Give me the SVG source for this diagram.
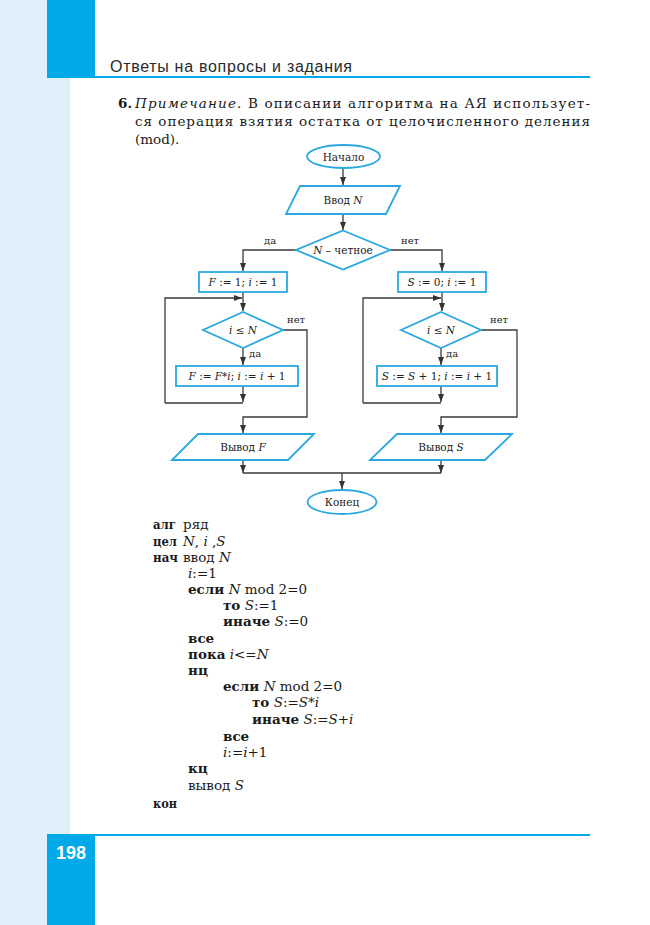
<svg xmlns="http://www.w3.org/2000/svg" width="650" height="925" viewBox="0 0 650 925">
  <defs>
    <marker id="arr" viewBox="0 0 8 6" refX="8" refY="3" markerWidth="8" markerHeight="6" markerUnits="userSpaceOnUse" orient="auto">
      <path d="M0,0 L8,3 L0,6 z" fill="#333"/>
    </marker>
    <style>
      .shape { fill:#fff; stroke:#2aa8e0; stroke-width:1.8; }
      .conn { fill:none; stroke:#3a3a3a; stroke-width:1.3; }
      .t { font-family:"DejaVu Serif","Liberation Serif",serif; font-size:10.5px; fill:#222; text-anchor:middle; }
      .lbl { font-family:"DejaVu Serif","Liberation Serif",serif; font-size:10px; fill:#222; }
      .it { font-style:italic; }
      .b { font-weight:bold; }
      .para { font-family:"DejaVu Serif","Liberation Serif",serif; font-size:13.5px; fill:#1a1a1a; }
      .code { font-family:"DejaVu Serif","Liberation Serif",serif; font-size:13.5px; fill:#1a1a1a; }
    </style>
  </defs>

  <!-- page decoration -->
  <rect x="0" y="0" width="650" height="925" fill="#fff"/>
  <rect x="0" y="0" width="70" height="925" fill="#dff0fa"/>
  <rect x="47" y="0" width="48" height="78" fill="#00a9e8"/>
  <rect x="47" y="835" width="48" height="90" fill="#00a9e8"/>
  <line x1="47" y1="77" x2="590" y2="77" stroke="#00a9e8" stroke-width="2"/>
  <line x1="47" y1="835" x2="590" y2="835" stroke="#00a9e8" stroke-width="2"/>
  <text x="110" y="72" font-family="'Liberation Sans',Arial,sans-serif" font-size="16" fill="#2a2a2a" textLength="242" lengthAdjust="spacing">Ответы на вопросы и задания</text>
  <text x="71" y="859" font-family="'Liberation Sans',Arial,sans-serif" font-size="18" font-weight="bold" fill="#fff" text-anchor="middle">198</text>

  <!-- note paragraph -->
  <text class="para b" x="118" y="108">6.</text>
  <text class="para" x="135" y="108" textLength="455" lengthAdjust="spacing"><tspan class="it">Примечание.</tspan> В описании алгоритма на АЯ использует-</text>
  <text class="para" x="135" y="126" textLength="455" lengthAdjust="spacing">ся операция взятия остатка от целочисленного деления</text>
  <text class="para" x="135" y="144">(mod).</text>

  <!-- connectors -->
  <g id="connectors">
    <path class="conn" d="M343,168 V185" marker-end="url(#arr)"/>
    <path class="conn" d="M343,214 V230" marker-end="url(#arr)"/>
    <path class="conn" d="M296,250 H243 V271" marker-end="url(#arr)"/>
    <path class="conn" d="M390,250 H442 V271" marker-end="url(#arr)"/>
    <!-- left loop -->
    <path class="conn" d="M243,292 V311" marker-end="url(#arr)"/>
    <path class="conn" d="M165,403 V298 H242" marker-end="url(#arr)"/>
    <path class="conn" d="M243,348 V365" marker-end="url(#arr)"/>
    <path class="conn" d="M243,386 V402" marker-end="url(#arr)"/>
    <path class="conn" d="M243,403 H165"/>
    <path class="conn" d="M283,330 H307 V417 H243 V433" marker-end="url(#arr)"/>
    <!-- right loop -->
    <path class="conn" d="M442,292 V311" marker-end="url(#arr)"/>
    <path class="conn" d="M363,403 V298 H441" marker-end="url(#arr)"/>
    <path class="conn" d="M441,348 V365" marker-end="url(#arr)"/>
    <path class="conn" d="M441,386 V402" marker-end="url(#arr)"/>
    <path class="conn" d="M441,403 H363"/>
    <path class="conn" d="M481,330 H517 V417 H441 V433" marker-end="url(#arr)"/>
    <!-- merge -->
    <path class="conn" d="M243,460 V473" marker-end="url(#arr)"/>
    <path class="conn" d="M441,460 V473" marker-end="url(#arr)"/>
    <path class="conn" d="M243,473 H441"/>
    <path class="conn" d="M342,473 V489" marker-end="url(#arr)"/>
    <!-- branch labels -->
    <text class="lbl" x="264" y="244">да</text>
    <text class="lbl" x="401" y="244">нет</text>
    <text class="lbl" x="287" y="323">нет</text>
    <text class="lbl" x="249" y="357">да</text>
    <text class="lbl" x="490" y="323">нет</text>
    <text class="lbl" x="446" y="357">да</text>
  </g>

  <g id="start">
    <ellipse class="shape" cx="343.5" cy="156.5" rx="36.5" ry="11.5"/>
    <text class="t" x="343.5" y="160.5">Начало</text>
  </g>

  <g id="input-n">
    <polygon class="shape" points="300,186 400,186 386,214 286,214"/>
    <text class="t" x="343" y="204">Ввод <tspan class="it">N</tspan></text>
  </g>

  <g id="check-even">
    <polygon class="shape" points="343,230.5 390,250 343,269.5 296,250"/>
    <text class="t" x="343" y="254"><tspan class="it">N</tspan> – четное</text>
  </g>

  <g id="init-f">
    <rect class="shape" x="199" y="272" width="88" height="20"/>
    <text class="t" x="243" y="286"><tspan class="it">F</tspan> := 1; <tspan class="it">i</tspan> := 1</text>
  </g>

  <g id="init-s">
    <rect class="shape" x="398" y="272" width="88" height="20"/>
    <text class="t" x="442" y="286"><tspan class="it">S</tspan> := 0; <tspan class="it">i</tspan> := 1</text>
  </g>

  <g id="cond-left">
    <polygon class="shape" points="243,312 283,330 243,348 203,330"/>
    <text class="t" x="243" y="334"><tspan class="it">i</tspan> ≤ <tspan class="it">N</tspan></text>
  </g>

  <g id="cond-right">
    <polygon class="shape" points="441,312 481,330 441,348 401,330"/>
    <text class="t" x="441" y="334"><tspan class="it">i</tspan> ≤ <tspan class="it">N</tspan></text>
  </g>

  <g id="step-f">
    <rect class="shape" x="176" y="366" width="122" height="20"/>
    <text class="t" x="237" y="380"><tspan class="it">F</tspan> := <tspan class="it">F</tspan>*<tspan class="it">i</tspan>;  <tspan class="it">i</tspan> := <tspan class="it">i</tspan> + 1</text>
  </g>

  <g id="step-s">
    <rect class="shape" x="377" y="366" width="120" height="20"/>
    <text class="t" x="437" y="380"><tspan class="it">S</tspan> := <tspan class="it">S</tspan> + 1; <tspan class="it">i</tspan> := <tspan class="it">i</tspan> + 1</text>
  </g>

  <g id="output-f">
    <polygon class="shape" points="198,434 314,434 288,460 172,460"/>
    <text class="t" x="243" y="451">Вывод <tspan class="it">F</tspan></text>
  </g>

  <g id="output-s">
    <polygon class="shape" points="397,434 512,434 485,460 370,460"/>
    <text class="t" x="441" y="451">Вывод <tspan class="it">S</tspan></text>
  </g>

  <g id="end">
    <ellipse class="shape" cx="342" cy="502" rx="34.5" ry="12"/>
    <text class="t" x="342" y="506">Конец</text>
  </g>

  <!-- algorithm listing -->
  <g id="listing" class="code">
    <text class="b" x="153" y="529" textLength="23" lengthAdjust="spacingAndGlyphs">алг</text>
    <text x="183" y="529">ряд</text>
    <text class="b" x="153" y="545.5" textLength="24" lengthAdjust="spacingAndGlyphs">цел</text>
    <text x="183" y="545.5"><tspan class="it">N</tspan>, <tspan class="it">i</tspan> ,<tspan class="it">S</tspan></text>
    <text class="b" x="153" y="562" textLength="25" lengthAdjust="spacingAndGlyphs">нач</text>
    <text x="183" y="562">ввод <tspan class="it">N</tspan></text>
    <text x="188" y="578"><tspan class="it">i</tspan>:=1</text>
    <text x="188" y="594"><tspan class="b">если</tspan> <tspan class="it">N</tspan> mod 2=0</text>
    <text x="223" y="610"><tspan class="b">то</tspan> <tspan class="it">S</tspan>:=1</text>
    <text x="223" y="626"><tspan class="b">иначе</tspan> <tspan class="it">S</tspan>:=0</text>
    <text x="188" y="643"><tspan class="b">все</tspan></text>
    <text x="188" y="659"><tspan class="b">пока</tspan> <tspan class="it">i</tspan>&lt;=<tspan class="it">N</tspan></text>
    <text x="188" y="675"><tspan class="b">нц</tspan></text>
    <text x="223" y="691"><tspan class="b">если</tspan> <tspan class="it">N</tspan> mod 2=0</text>
    <text x="252" y="707"><tspan class="b">то</tspan> <tspan class="it">S</tspan>:=<tspan class="it">S</tspan>*<tspan class="it">i</tspan></text>
    <text x="252" y="724"><tspan class="b">иначе</tspan> <tspan class="it">S</tspan>:=<tspan class="it">S</tspan>+<tspan class="it">i</tspan></text>
    <text x="223" y="741"><tspan class="b">все</tspan></text>
    <text x="223" y="757"><tspan class="it">i</tspan>:=<tspan class="it">i</tspan>+1</text>
    <text x="188" y="773"><tspan class="b">кц</tspan></text>
    <text x="188" y="790">вывод <tspan class="it">S</tspan></text>
    <text class="b" x="153" y="808" textLength="24" lengthAdjust="spacingAndGlyphs">кон</text>
  </g>
</svg>
